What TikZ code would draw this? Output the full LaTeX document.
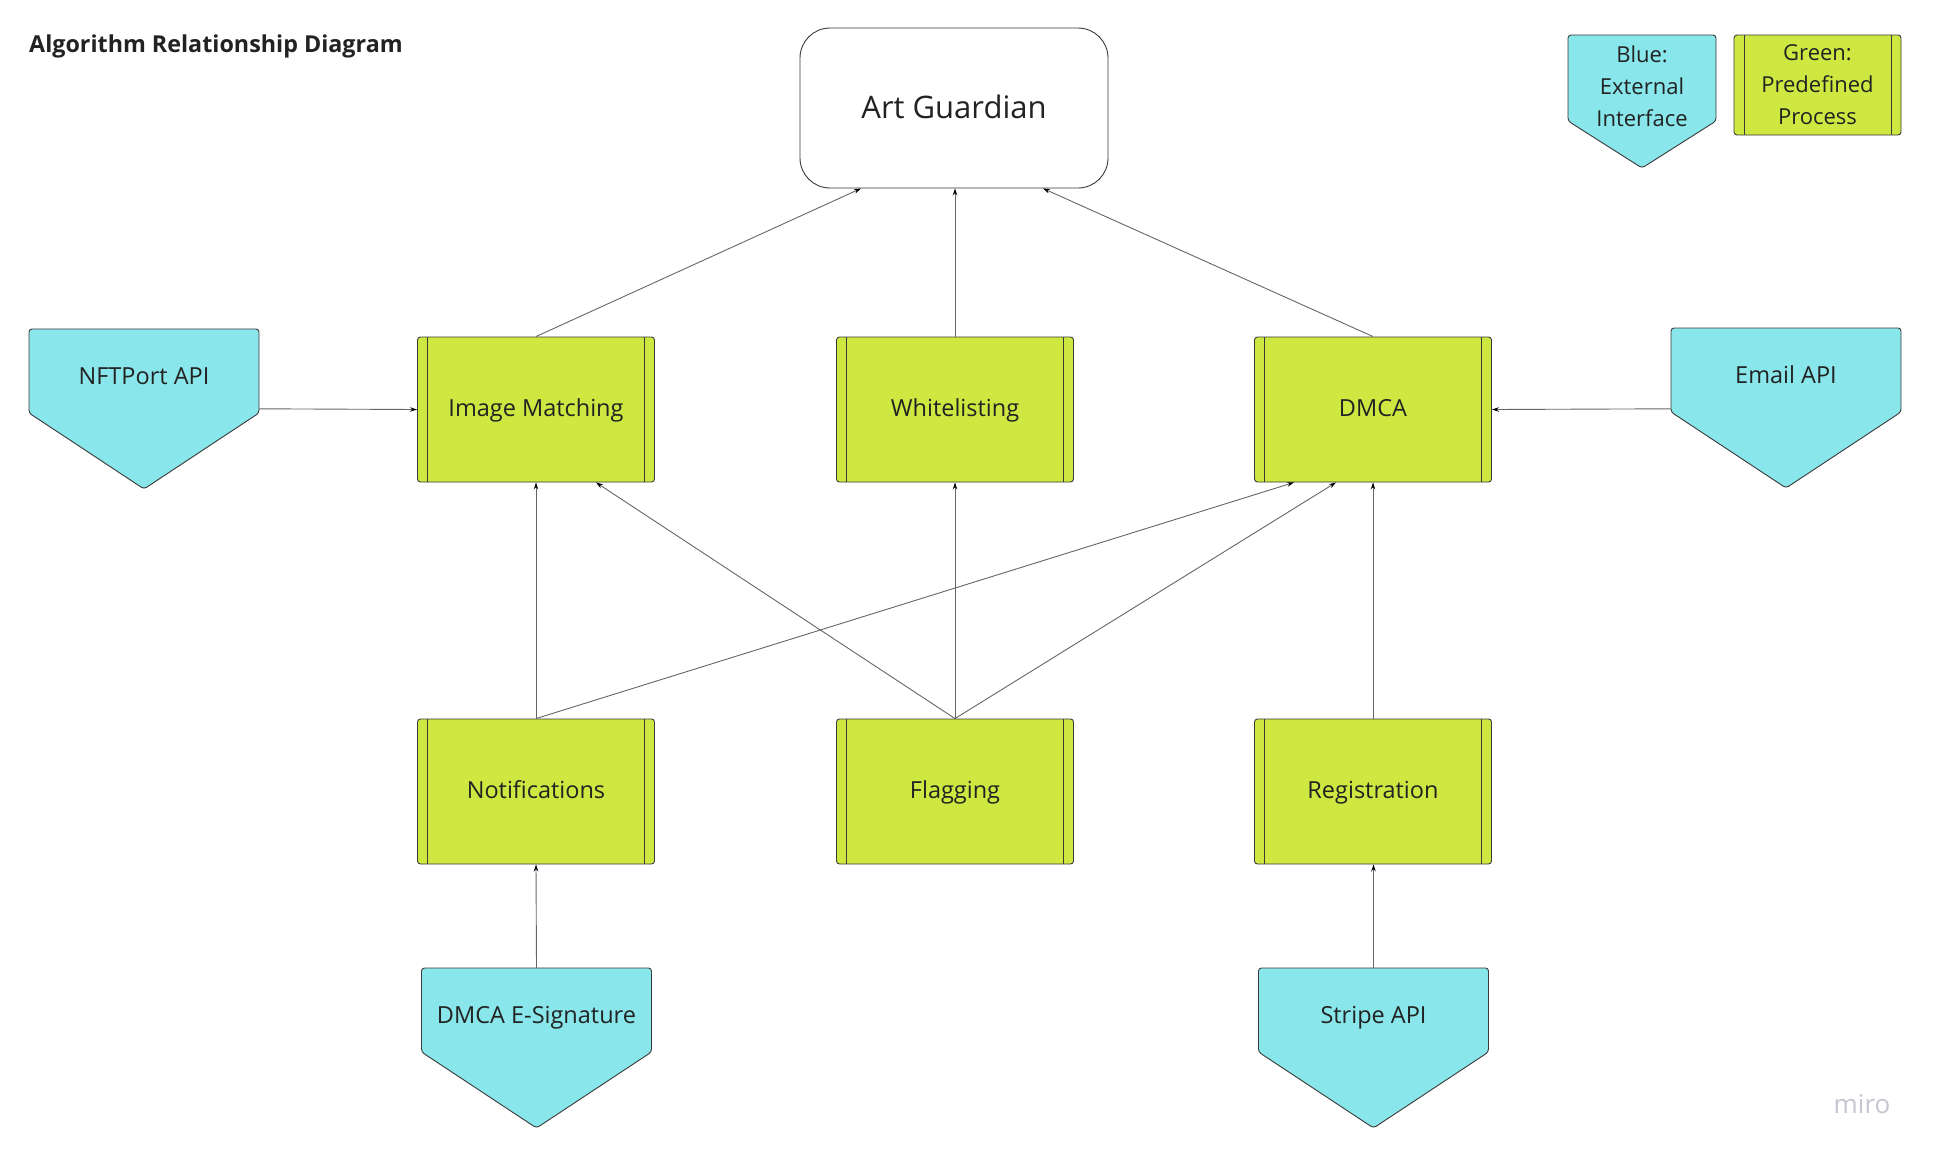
\documentclass[tikz,border=0pt]{standalone}
\usepackage{fontspec}
\setmainfont{Open Sans}
\usetikzlibrary{calc,arrows.meta}
\definecolor{extblue}{HTML}{89E6EA}
\definecolor{procgreen}{HTML}{CEE741}
\definecolor{edgegray}{HTML}{3A3A3A}
\definecolor{txt}{HTML}{222222}
\definecolor{mirogray}{HTML}{C6C6D3}
\tikzset{
  fnt/.style={font=\fontsize{#1}{#1}\selectfont},
  procbox/.style={rectangle, rounded corners=3pt, fill=procgreen, draw=edgegray, line width=0.9pt,
    minimum width=237pt, minimum height=145pt, inner sep=0pt, text=txt, fnt=23.5,
    text height=18pt, text depth=5pt,
    path picture={
      \draw[edgegray, line width=0.9pt] ([xshift=10pt]path picture bounding box.north west) -- ([xshift=10pt]path picture bounding box.south west);
      \draw[edgegray, line width=0.9pt] ([xshift=-10pt]path picture bounding box.north east) -- ([xshift=-10pt]path picture bounding box.south east);}},
  extshape/.style={fill=extblue, draw=edgegray, line width=0.9pt, rounded corners=3pt},
  extnode/.style={rectangle, draw=none, minimum width=230pt, minimum height=94pt, inner sep=0pt, text=txt, fnt=23.5,
    text height=21.5pt, text depth=5pt},
  conn/.style={draw=black!60, line width=0.9pt, -{Stealth[length=7pt,width=4.5pt,color=black]}},
}
\newcommand{\extbox}[4]{%
  \draw[extshape] (#2-115,#3-47) -- (#2+115,#3-47) -- (#2+115,#3+37) -- (#2,#3+113) -- (#2-115,#3+37) -- cycle;
  \node[extnode] (#1) at (#2,#3) {#4};}
\begin{document}
\begin{tikzpicture}[x=1pt,y=-1pt]
\useasboundingbox[fill=white] (0,0) rectangle (1938,1160);

% title
\node[anchor=west, text=txt, font=\fontsize{23.3}{23.3}\selectfont\bfseries, inner sep=0pt] (title) at (29,46) {Algorithm Relationship Diagram};

% main node
\node[rectangle, rounded corners=30pt, draw=edgegray, line width=0.9pt, fill=white,
  minimum width=308pt, minimum height=160pt, text=txt, fnt=31] (ag) at (954,108) {\raisebox{2pt}{Art Guardian}};

% process boxes
\node[procbox] (im) at (536,409.5) {Image Matching};
\node[procbox] (wl) at (955,409.5) {Whitelisting};
\node[procbox] (dmca) at (1373,409.5) {DMCA};
\node[procbox] (notif) at (536,791.5) {Notifications};
\node[procbox] (flag) at (955,791.5) {Flagging};
\node[procbox] (reg) at (1373,791.5) {Registration};

% external interfaces
\extbox{nft}{144}{376}{NFTPort API}
\extbox{email}{1786}{375}{Email API}
\extbox{desig}{536.5}{1015}{DMCA E-Signature}
\extbox{stripe}{1373.5}{1015}{Stripe API}

% legend
\draw[extshape] (1568,35) -- (1716,35) -- (1716,121) -- (1642,168) -- (1568,121) -- cycle;
\node[rectangle, draw=none, minimum width=148pt, inner sep=0pt, align=center, text=txt,
  font=\fontsize{22}{32}\selectfont] (legblue) at (1642,86) {Blue:\\External\\Interface};
\node[procbox, minimum width=167pt, minimum height=100pt, align=center, text height=, text depth=,
  font=\fontsize{22}{32}\selectfont] (leggreen) at (1817.5,85) {Green:\\Predefined\\Process};

% connectors
\draw[conn] (im.north) -- ($(ag.south)+(-93,0)$);
\draw[conn] (wl.north) -- (ag.south -| wl.north);
\draw[conn] (dmca.north) -- ($(ag.south)+(89,0)$);
\draw[conn] ($(nft.north east)+(0,80)$) -- (im.west);
\draw[conn] ($(email.north west)+(0,81)$) -- (dmca.west -| dmca.east);
\draw[conn] (notif.north) -- (im.south);
\draw[conn] (flag.north) -- ($(im.south)+(60,0)$);
\draw[conn] (flag.north) -- (wl.south);
\draw[conn] (notif.north) -- ($(dmca.south)+(-79,0)$);
\draw[conn] (flag.north) -- ($(dmca.south)+(-37,0)$);
\draw[conn] (reg.north) -- (dmca.south);
\draw[conn] (desig.north) -- (notif.south);
\draw[conn] (stripe.north) -- (stripe.north |- reg.south);

% watermark
\node[text=mirogray, font=\fontsize{26}{26}\selectfont, inner sep=0pt] (miro) at (1862,1104) {miro};
\end{tikzpicture}
\end{document}
